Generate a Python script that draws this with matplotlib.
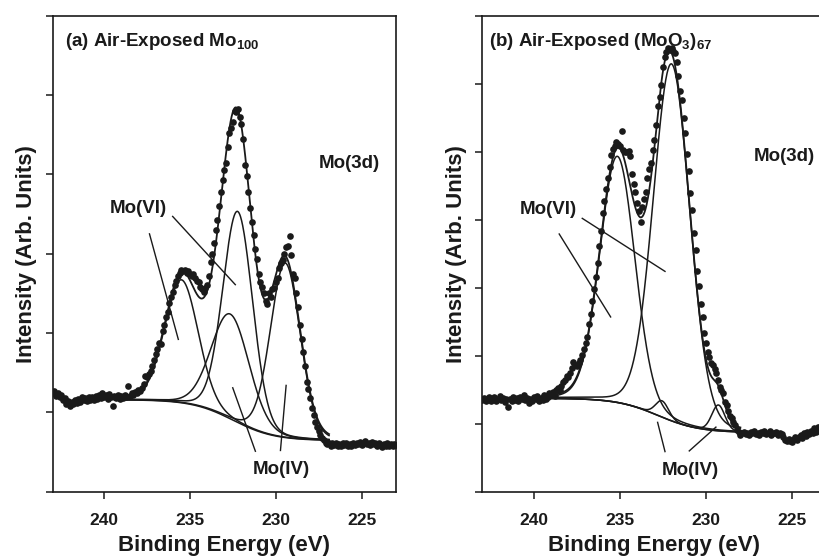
import numpy as np
import matplotlib
matplotlib.use("Agg")
import matplotlib.pyplot as plt

plt.rcParams["font.family"] = ["Liberation Sans", "DejaVu Sans"]
plt.rcParams["font.weight"] = "bold"
plt.rcParams["mathtext.fontset"] = "custom"
plt.rcParams["mathtext.rm"] = "Liberation Sans:bold"
plt.rcParams["mathtext.bf"] = "Liberation Sans:bold"

INK = "#1a1a1a"

# measured spectra, 243.0 eV down to 223.0 eV in 0.1 eV steps
be_start, be_step = 243.0, 0.1

counts_a = [
    1.24, 1.27, 1.21, 1.25, 1.19, 1.22, 1.15, 1.18, 1.11, 1.14,
    1.08, 1.13, 1.10, 1.16, 1.12, 1.17, 1.13, 1.19, 1.15, 1.18,
    1.14, 1.20, 1.16, 1.19, 1.15, 1.21, 1.17, 1.22, 1.18, 1.24,
    1.19, 1.22, 1.17, 1.23, 1.19, 1.08, 1.21, 1.18, 1.22, 1.17,
    1.21, 1.18, 1.22, 1.19, 1.33, 1.21, 1.24, 1.22, 1.26, 1.25,
    1.28, 1.27, 1.31, 1.36, 1.46, 1.44, 1.49, 1.52, 1.58, 1.66,
    1.74, 1.80, 1.87, 1.86, 2.03, 2.10, 2.20, 2.27, 2.38, 2.46,
    2.52, 2.60, 2.66, 2.72, 2.76, 2.79, 2.78, 2.80, 2.76, 2.78,
    2.74, 2.72, 2.74, 2.69, 2.66, 2.64, 2.58, 2.55, 2.52, 2.57,
    2.60, 2.72, 2.90, 3.00, 3.14, 3.30, 3.42, 3.60, 3.78, 3.93,
    4.06, 4.14, 4.35, 4.52, 4.58, 4.66, 4.80, 4.78, 4.82, 4.72,
    4.63, 4.45, 4.12, 3.98, 3.78, 3.58, 3.40, 3.24, 3.06, 2.93,
    2.74, 2.64, 2.58, 2.50, 2.40, 2.37, 2.50, 2.45, 2.55, 2.57,
    2.64, 2.70, 2.82, 2.88, 2.92, 3.00, 3.08, 3.10, 3.22, 2.98,
    2.74, 2.70, 2.50, 2.33, 2.10, 1.92, 1.76, 1.58, 1.38, 1.30,
    1.18, 1.06, 0.97, 0.88, 0.82, 0.76, 0.72, 0.68, 0.65, 0.62,
    0.60, 0.62, 0.58, 0.61, 0.59, 0.62, 0.57, 0.60, 0.58, 0.61,
    0.59, 0.62, 0.58, 0.60, 0.57, 0.61, 0.59, 0.62, 0.60, 0.63,
    0.59, 0.61, 0.64, 0.60, 0.62, 0.59, 0.63, 0.60, 0.62, 0.58,
    0.61, 0.59, 0.56, 0.60, 0.58, 0.61, 0.57, 0.60, 0.58, 0.60,
    0.59,
]

counts_b = [
    1.35, 1.38, 1.33, 1.37, 1.40, 1.34, 1.36, 1.39, 1.33, 1.37,
    1.41, 1.35, 1.38, 1.32, 1.36, 1.24, 1.37, 1.34, 1.39, 1.35,
    1.38, 1.33, 1.40, 1.36, 1.42, 1.35, 1.38, 1.31, 1.37, 1.34,
    1.39, 1.36, 1.41, 1.33, 1.38, 1.35, 1.42, 1.37, 1.40, 1.45,
    1.43, 1.47, 1.41, 1.49, 1.52, 1.50, 1.56, 1.62, 1.65, 1.70,
    1.68, 1.75, 1.82, 1.91, 1.86, 1.85, 1.89, 1.93, 2.01, 2.10,
    2.19, 2.27, 2.46, 2.62, 2.80, 2.98, 3.16, 3.36, 3.62, 3.84,
    4.10, 4.28, 4.45, 4.62, 4.78, 4.95, 5.04, 5.09, 5.14, 5.12,
    5.08, 5.30, 5.02, 5.00, 4.99, 5.01, 4.93, 4.67, 4.52, 4.41,
    4.24, 4.13, 3.97, 4.18, 4.31, 4.41, 4.62, 4.74, 4.83, 5.02,
    5.17, 5.40, 5.67, 5.80, 5.98, 6.24, 6.40, 6.47, 6.52, 6.50,
    6.53, 6.48, 6.45, 6.32, 6.11, 5.90, 5.76, 5.50, 5.28, 4.96,
    4.72, 4.40, 4.15, 3.80, 3.56, 3.24, 3.03, 2.76, 2.57, 2.33,
    2.18, 2.06, 1.98, 1.90, 1.86, 1.80, 1.75, 1.64, 1.54, 1.49,
    1.45, 1.32, 1.28, 1.18, 1.12, 1.08, 1.03, 0.98, 0.91, 0.88,
    0.83, 0.86, 0.88, 0.85, 0.87, 0.84, 0.88, 0.86, 0.89, 0.85,
    0.87, 0.84, 0.88, 0.86, 0.90, 0.85, 0.87, 0.89, 0.84, 0.87,
    0.86, 0.88, 0.83, 0.87, 0.85, 0.80, 0.76, 0.74, 0.78, 0.75,
    0.73, 0.77, 0.80, 0.76, 0.81, 0.84, 0.79, 0.86, 0.82, 0.88,
    0.85, 0.90, 0.87, 0.93, 0.88, 0.95, 0.91, 0.96, 0.92, 0.94,
    0.93,
]

# peak-fit results: Mo(VI) 3d3/2, Mo(VI) 3d5/2, Mo(IV) 3d3/2, Mo(IV) 3d5/2
peak_center_a = [235.5, 232.22, 232.65, 229.45]
peak_height_a = [1.55, 2.66, 1.32, 2.20]
peak_fwhm_a = [2.3, 2.05, 2.6, 2.05]
bg_a = [1.16, 0.645, 232.5, 1.2]      # high side, low side, step centre, step width
fit_range_a = [239.4, 226.9]

peak_center_b = [235.15, 232.0, 232.55, 229.28]
peak_height_b = [3.62, 5.25, 0.24, 0.38]
peak_fwhm_b = [2.4, 2.5, 0.9, 0.9]
bg_b = [1.375, 0.87, 232.8, 1.2]
fit_range_b = [239.5, 228.0]

lorentz_frac = 0.1


def background(x, p):
    return p[1] + (p[0] - p[1]) / (1 + np.exp(-(x - p[2]) / p[3]))


def peak(x, c, h, w):
    r = (x - c) / w
    g = np.exp(-4 * np.log(2) * r ** 2)
    lz = 1 / (1 + 4 * r ** 2)
    return h * ((1 - lorentz_frac) * g + lorentz_frac * lz)


def panel(ax, counts, centers, heights, fwhms, bg, rng, ymax):
    be = be_start - be_step * np.arange(len(counts))
    xf = np.linspace(rng[0], rng[1], 600)
    base = background(xf, bg)
    total = base.copy()
    for c, h, w in zip(centers, heights, fwhms):
        comp = peak(xf, c, h, w)
        total += comp
        ax.plot(xf, base + comp, color=INK, lw=1.1, zorder=2)
    ax.plot(xf, base, color=INK, lw=1.1, zorder=2)
    ax.plot(xf, total, color=INK, lw=1.3, zorder=2)
    ax.plot(be, counts, "o", color=INK, ms=4.8, mec="none", zorder=3)

    ax.set_xlim(243, 223)
    ax.set_ylim(0, ymax)
    ax.set_xticks([240, 235, 230, 225])
    ax.set_yticks(range(0, ymax + 1))
    ax.set_yticklabels([])
    ax.tick_params(axis="both", direction="out", length=5, width=1.1, color=INK,
                   top=False, right=False)
    ax.tick_params(axis="x", labelsize=12.5, pad=10, labelcolor=INK)
    for s in ax.spines.values():
        s.set_linewidth(1.2)
        s.set_color(INK)
    ax.set_xlabel("Binding Energy (eV)", fontsize=16, fontweight="bold",
                  color=INK, labelpad=5.5)
    ax.set_ylabel("Intensity (Arb. Units)", fontsize=16, fontweight="bold",
                  color=INK, labelpad=2.5)


fig = plt.figure(figsize=(8.19, 5.57), dpi=100)
ax1 = fig.add_axes([0.0643, 0.1172, 0.4192, 0.8546])
ax2 = fig.add_axes([0.5889, 0.1172, 0.4201, 0.8546])

panel(ax1, counts_a, peak_center_a, peak_height_a, peak_fwhm_a, bg_a, fit_range_a, 6)
panel(ax2, counts_b, peak_center_b, peak_height_b, peak_fwhm_b, bg_b, fit_range_b, 7)

tk = dict(fontsize=13.5, fontweight="bold", color=INK)

ax1.text(242.3, 5.62, r"(a) Air-Exposed Mo$_{\mathbf{100}}$", ha="left", va="baseline", **tk)
ax1.text(227.49, 4.14, "Mo(3d)", ha="left", va="center", **tk)
ax1.text(239.65, 3.57, "Mo(VI)", ha="left", va="center", **tk)
ax1.text(231.35, 0.28, "Mo(IV)", ha="left", va="center", **tk)
for (x0, y0), (x1, y1) in [((237.36, 3.25), (235.68, 1.92)),
                           ((236.01, 3.47), (232.36, 2.61)),
                           ((232.51, 1.31), (231.19, 0.51)),
                           ((229.40, 1.34), (229.73, 0.52))]:
    ax1.plot([x0, x1], [y0, y1], color=INK, lw=1.0)

ax2.text(242.62, 6.55, r"(b) Air-Exposed (MoO$_{\mathbf{3}}$)$_{\mathbf{67}}$", ha="left",
         va="baseline", **tk)
ax2.text(227.25, 4.93, "Mo(3d)", ha="left", va="center", **tk)
ax2.text(240.81, 4.15, "Mo(VI)", ha="left", va="center", **tk)
ax2.text(232.58, 0.31, "Mo(IV)", ha="left", va="center", **tk)
for (x0, y0), (x1, y1) in [((238.53, 3.79), (235.54, 2.57)),
                           ((237.19, 4.02), (232.38, 3.24)),
                           ((232.81, 1.02), (232.38, 0.59)),
                           ((229.42, 0.95), (230.97, 0.60))]:
    ax2.plot([x0, x1], [y0, y1], color=INK, lw=1.0)

fig.savefig("out.png", dpi=100)
